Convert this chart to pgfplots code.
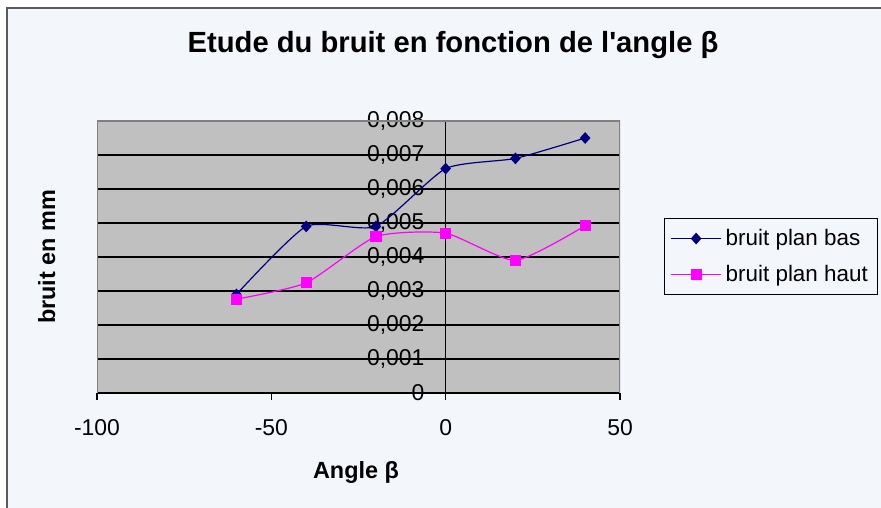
\documentclass[border=0pt]{standalone}
\usepackage{fontspec}
\setmainfont{Liberation Sans}[Ligatures=TeXOff]
\usepackage{pgfplots}
\pgfplotsset{compat=1.18}

\definecolor{chartbg}{HTML}{F3F6FB}
\definecolor{plotgray}{HTML}{C0C0C0}
\definecolor{framegray}{HTML}{808080}
\definecolor{borderdark}{HTML}{5A5A5A}
\definecolor{basblue}{HTML}{000080}
\definecolor{hautpink}{HTML}{FF00FF}

\newcommand{\ticksize}{\fontsize{23}{27}\selectfont}
\newcommand{\labsize}{\fontsize{23.5}{28}\selectfont\bfseries}

\begin{document}
\begin{tikzpicture}[x=1bp,y=1bp]
  \path[use as bounding box] (0,0) rectangle (881,508);
  \clip (0,0) rectangle (881,508);
  \fill[white] (0,0) rectangle (881,508);
  % chart area
  \filldraw[fill=chartbg, draw=borderdark, line width=1.5bp] (7,-20) rectangle (900,500);

  \begin{axis}[
    at={(97bp,115bp)}, anchor=south west,
    scale only axis, width=523bp, height=272bp,
    xmin=-100, xmax=50, ymin=0, ymax=0.008,
    axis x line=bottom, axis y line=center,
    axis line style={black, line width=1.2bp, -},
    hide obscured x ticks=false, hide obscured y ticks=false,
    axis background/.style={fill=plotgray},
    xtick={-100,-50,0,50},
    ytick={0,0.001,0.002,0.003,0.004,0.005,0.006,0.007},
    extra y ticks={0.008},
    extra y tick style={grid=none},
    ymajorgrids,
    grid style={black, line width=1.3bp},
    major tick length=7bp,
    tick align=outside,
    tick style={black, line width=1.2bp},
    scaled y ticks=false,
    /pgf/number format/.cd, use comma, fixed, precision=3, assume math mode=true,
    /pgfplots/.cd,
    tick label style={font=\ticksize},
    yticklabel style={anchor=east, inner sep=0pt, xshift=-14bp},
    xticklabel style={anchor=north, inner sep=0pt, yshift=-19bp},
    legend style={
      at={(axis description cs:1.084,0.643)}, anchor=north west,
      draw=black, line width=1.2bp, fill=chartbg,
      font=\fontsize{22.5}{26}\selectfont,
      inner xsep=6bp, inner ysep=9bp, row sep=14bp,
      nodes={inner ysep=2bp, inner xsep=4bp},
    },
    legend cell align=left,
    legend image code/.code={
      \draw[mark repeat=2, mark phase=2]
        plot coordinates {(0bp,0bp) (25bp,0bp) (50bp,0bp)};
    },
  ]
    \draw[framegray, line width=1.2bp] (rel axis cs:0,0) -- (rel axis cs:0,1)
      -- (rel axis cs:1,1) -- (rel axis cs:1,0);

    \addplot[basblue, line width=1.2bp, smooth, tension=0.35,
      mark=diamond*, mark size=5bp, mark options={fill=basblue, xscale=1.2}]
      coordinates {(-60,0.0029) (-40,0.0049) (-20,0.0049) (0,0.0066) (20,0.0069) (40,0.0075)};
    \addlegendentry{bruit plan bas}

    \addplot[hautpink, line width=1.2bp, smooth, tension=0.35,
      mark=square*, mark size=5bp, mark options={fill=hautpink}]
      coordinates {(-60,0.00276) (-40,0.00324) (-20,0.0046) (0,0.0047) (20,0.0039) (40,0.00492)};
    \addlegendentry{bruit plan haut}
  \end{axis}

  \node[anchor=base, font=\fontsize{29.3}{33}\selectfont\bfseries] at (453,455)
    {Etude du bruit en fonction de l'angle β};
  \node[anchor=base, font=\labsize] at (356,29) {Angle β};
  \node[anchor=base, rotate=90, font=\labsize] at (55,251) {bruit en mm};
\end{tikzpicture}
\end{document}
